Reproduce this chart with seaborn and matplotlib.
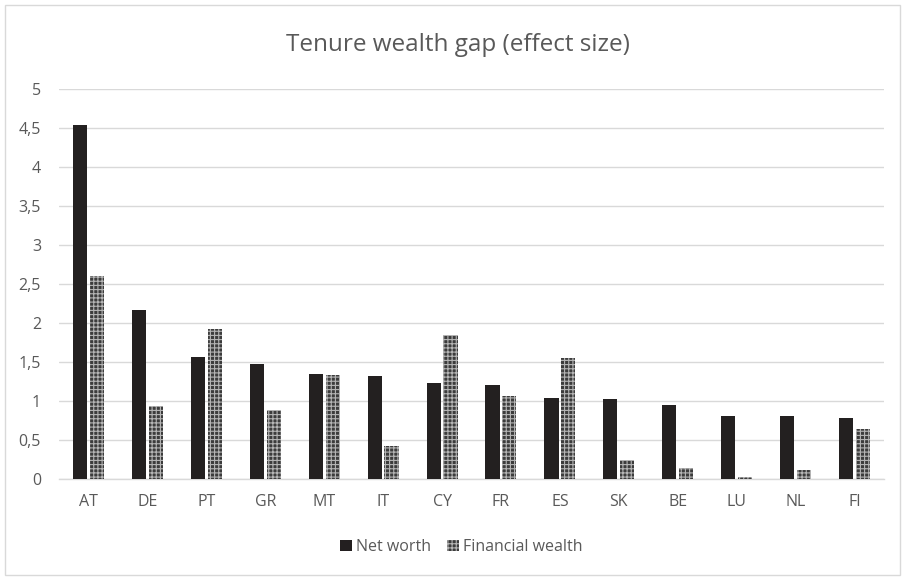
import matplotlib
matplotlib.use("Agg")
import matplotlib.pyplot as plt
from matplotlib.patches import Rectangle, Patch
import seaborn as sns
import pandas as pd

countries = ["AT", "DE", "PT", "GR", "MT", "IT", "CY", "FR", "ES", "SK", "BE", "LU", "NL", "FI"]
net_worth = [4.54, 2.17, 1.57, 1.48, 1.34, 1.32, 1.23, 1.21, 1.04, 1.02, 0.95, 0.81, 0.81, 0.78]
financial_wealth = [2.60, 0.94, 1.92, 0.88, 1.33, 0.42, 1.85, 1.07, 1.55, 0.24, 0.14, 0.03, 0.11, 0.64]
series_names = ["Net worth", "Financial wealth"]
y_ticks = [0, 0.5, 1, 1.5, 2, 2.5, 3, 3.5, 4, 4.5, 5]

df = pd.DataFrame({
    "country": countries * 2,
    "value": net_worth + financial_wealth,
    "series": [series_names[0]] * len(countries) + [series_names[1]] * len(countries),
})

sns.set_theme(style="white")
plt.rcParams["font.family"] = ["Open Sans", "DejaVu Sans"]
plt.rcParams["hatch.linewidth"] = 0.8

W, H = 908, 580
fig = plt.figure(figsize=(W / 100, H / 100), dpi=100)
ax = fig.add_axes([59 / W, (H - 479) / H, (884 - 59) / W, (479 - 89) / H])

dark = "#231f20"
fin_face = "#3c3c3c"
fin_hatch = "#b5b5b5"

sns.barplot(data=df, x="country", y="value", hue="series", order=countries,
            hue_order=series_names, palette=[dark, fin_face], width=0.572,
            gap=0.16, legend=False, ax=ax, zorder=3)

# style the financial-wealth bars with a grid pattern
for bar in ax.containers[1]:
    bar.set_hatch("++++")
    bar.set_edgecolor(fin_hatch)
    bar.set_linewidth(0)
for bar in ax.containers[0]:
    bar.set_linewidth(0)

ax.set_ylim(0, 5)
ax.set_xlim(-0.5, len(countries) - 0.5)
ax.set_yticks(y_ticks)
ax.set_yticklabels([f"{t:g}".replace(".", ",") for t in y_ticks])
ax.yaxis.grid(True, color="#d9d9d9", linewidth=1.0, zorder=0)
ax.set_axisbelow(True)
for side in ["left", "right", "top"]:
    ax.spines[side].set_visible(False)
ax.spines["bottom"].set_color("#d9d9d9")
ax.spines["bottom"].set_linewidth(1.0)
ax.tick_params(axis="y", length=0, pad=13, labelsize=11.5, labelcolor="#595959")
ax.tick_params(axis="x", length=0, pad=11, labelsize=11.5, labelcolor="#595959")
ax.set_xlabel("")
ax.set_ylabel("")

fig.text(458 / W, 1 - 45 / H, "Tenure wealth gap (effect size)", ha="center", va="center",
         fontsize=17.5, color="#595959")

handles = [Patch(facecolor=dark, edgecolor=dark, linewidth=0),
           Patch(facecolor=fin_face, edgecolor=fin_hatch, hatch="++++", linewidth=0)]
fig.legend(handles, series_names, loc="center", bbox_to_anchor=(461 / W, 1 - 547 / H),
           ncol=2, frameon=False, fontsize=11.5, handlelength=0.75, handleheight=0.75,
           handletextpad=0.25, columnspacing=1.0, labelcolor="#595959")

fig.patches.append(Rectangle((5 / W, 5 / H), (900 - 5) / W, (575 - 5) / H,
                             transform=fig.transFigure, fill=False,
                             edgecolor="#d9d9d9", linewidth=1.0))

fig.savefig("out.png", dpi=100)
